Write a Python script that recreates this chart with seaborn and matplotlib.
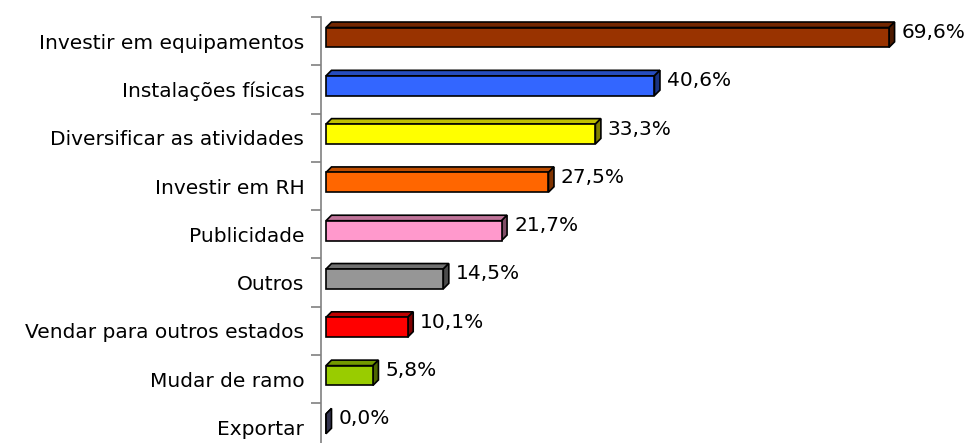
import matplotlib
matplotlib.use("Agg")
import matplotlib.pyplot as plt
import matplotlib.colors as mcolors
from matplotlib.patches import Polygon
import seaborn as sns

sns.set_style("white")
plt.rcParams["font.family"] = ["DejaVu Sans"]

categorias = [
    "Investir em equipamentos",
    "Instalações físicas",
    "Diversificar as atividades",
    "Investir em RH",
    "Publicidade",
    "Outros",
    "Vendar para outros estados",
    "Mudar de ramo",
    "Exportar",
]
valores = [69.6, 40.6, 33.3, 27.5, 21.7, 14.5, 10.1, 5.8, 0.0]
cores = ["#993300", "#3366FF", "#FFFF00", "#FF6600", "#FF99CC",
         "#969696", "#FF0000", "#99CC00", "#666699"]

W, H = 973, 443
fig = plt.figure(figsize=(W / 100, H / 100), dpi=100)
ax = fig.add_axes([321 / W, 0, (W - 321) / W, (H - 17) / H])

sns.barplot(x=valores, y=categorias, hue=categorias, palette=cores,
            saturation=1, width=0.41, edgecolor="black", linewidth=1.2,
            legend=False, orient="h", ax=ax, zorder=3)

px_x = 8.09   # pixels por ponto percentual
px_y = 48.3   # pixels por categoria
ax.set_xlim(-5 / px_x, -5 / px_x + (W - 321) / px_x)
ax.set_ylim(-0.423 + (H - 17) / px_y, -0.423)

# profundidade 3D
dx = 5.5 / px_x
dy = -5.5 / px_y

def escurecer(c, f):
    r, g, b = mcolors.to_rgb(c)
    return (r * f, g * f, b * f)

for p, cor, v in zip(ax.patches, cores, valores):
    x0 = p.get_x()
    x1 = x0 + p.get_width()
    yt = p.get_y()
    yb = yt + p.get_height()
    topo = Polygon([(x0, yt), (x1, yt), (x1 + dx, yt + dy), (x0 + dx, yt + dy)],
                   closed=True, facecolor=escurecer(cor, 0.75), edgecolor="black",
                   linewidth=1.2, zorder=2)
    lado = Polygon([(x1, yt), (x1, yb), (x1 + dx, yb + dy), (x1 + dx, yt + dy)],
                   closed=True, facecolor=escurecer(cor, 0.5), edgecolor="black",
                   linewidth=1.2, zorder=2)
    ax.add_patch(topo)
    ax.add_patch(lado)
    yc = yt + p.get_height() / 2
    ax.text(x1 + dx + 7 / px_x, yc - 5 / px_y, f"{v:.1f}%".replace(".", ","),
            ha="left", va="center", fontsize=14.5, color="black")

for s in ["top", "right", "bottom"]:
    ax.spines[s].set_visible(False)
ax.spines["left"].set_color("#808080")
ax.spines["left"].set_linewidth(1.2)

ax.set_xticks([])
ax.set_xlabel("")
ax.set_ylabel("")
ax.set_yticks([i + 0.077 for i in range(len(categorias))], categorias)
ax.tick_params(axis="y", which="major", length=0, pad=12, labelsize=14.5,
               labelcolor="black")
ax.set_yticks([i + 0.577 for i in range(-1, 8)], minor=True)
ax.tick_params(axis="y", which="minor", left=True, length=7, width=1.2,
               color="#808080")

fig.savefig("out.png", dpi=100)
